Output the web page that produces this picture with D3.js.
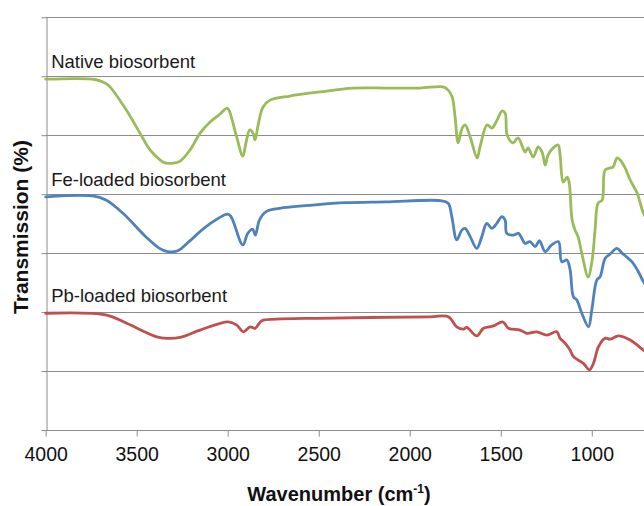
<!DOCTYPE html>
<html>
<head>
<meta charset="utf-8">
<script src="https://cdn.jsdelivr.net/npm/d3@7"></script>
<style>
body{
	margin:0;
	background:#fff;
}
svg text{
	font-family:"Liberation Sans", Arial, sans-serif;
}
.grid line{
	stroke:#8c8c8c;
	stroke-width:1;
}
.spectrum{
	fill:none;
	stroke-width:2.8;
	stroke-linejoin:round;
	stroke-linecap:round;
}
</style>
</head>
<body>
<svg></svg>
<script>
// wavenumbers (cm-1) and transmission, one pair of arrays per sample
var nativeWn = [4000,3729,3674,3647,3564,3482,3427,3372,3345,3290,3262,3207,3152,3097,3042,3004,2993,2954,2917,2900,2879,2861,2850,2833,2806,2767,2658,2493,2311,2125,1943,1817,1789,1767,1751,1734,1712,1696,1668,1630,1614,1575,1548,1520,1493,1476,1465,1432,1405,1366,1350,1322,1295,1273,1256,1240,1212,1185,1174,1157,1135,1124,1108,1092,1075,1053,1020,998,982,965,943,927,899,883,861,844,817,789,751,718,680];
var nativeT = [119.0,118.9,117.7,116.4,109.2,100.7,95.0,91.6,90.6,90.6,91.2,95.0,100.7,104.5,107.2,109.2,108.5,100.1,92.9,97.4,101.8,100.7,98.4,103.5,109.6,111.9,113.3,114.7,116.0,116.0,116.0,116.4,115.3,113.0,106.2,97.4,102.4,103.5,99.4,92.3,96.0,103.5,102.4,105.2,108.2,107.5,100.1,97.4,99.1,94.3,95.7,92.6,96.0,94.3,89.9,93.3,95.7,96.7,93.3,84.1,85.8,83.8,71.2,67.8,65.5,59.4,51.9,57.7,67.8,77.0,78.0,88.2,88.9,89.2,92.3,91.6,88.9,84.8,80.4,73.9,69.5];

var feWn = [4000,3742,3669,3577,3449,3377,3330,3275,3213,3119,3000,2982,2917,2890,2863,2848,2826,2789,2716,2533,2350,2130,1833,1789,1769,1742,1714,1696,1668,1632,1604,1577,1549,1522,1494,1476,1467,1431,1403,1366,1339,1311,1288,1256,1220,1183,1165,1137,1119,1101,1082,1055,1018,1000,972,954,927,899,862,835,807,780,744,716,680];
var feT = [79.1,79.4,78.0,73.6,65.5,61.7,60.5,60.8,63.9,69.0,73.2,72.4,62.8,66.7,68.1,66.1,71.2,74.1,75.2,76.3,77.1,77.4,77.8,76.9,72.4,64.5,67.8,68.4,65.6,61.6,65.6,70.1,68.4,70.1,72.4,71.2,66.7,66.1,66.7,63.3,63.9,62.2,64.2,60.5,62.8,63.9,57.1,57.7,54.3,45.2,44.1,39.6,35.0,40.7,50.9,52.0,58.2,59.7,61.6,60.1,58.6,57.1,53.7,50.3,47.5];

var pbWn = [4000,3665,3555,3390,3335,3262,3152,2997,2950,2914,2877,2850,2813,2731,2511,1888,1788,1742,1705,1687,1632,1595,1540,1489,1458,1394,1357,1302,1247,1192,1174,1146,1119,1101,1046,1013,991,963,927,899,854,789,716,680];
var pbT = [39.6,39.0,36.2,31.6,31.1,31.4,33.9,36.7,35.6,33.3,35.0,34.5,37.1,37.6,37.9,38.4,38.4,35.0,34.2,34.8,31.9,34.5,35.3,36.7,34.5,33.9,32.8,33.3,32.2,33.3,31.1,29.4,27.1,24.9,22.6,20.4,22.6,28.3,31.1,30.8,31.9,30.5,27.1,25.8];

var sampleNames = ["Native biosorbent", "Fe-loaded biosorbent", "Pb-loaded biosorbent"];
var sampleColors = ["#9bbb59", "#4f81bd", "#c0504d"];

var xTicks = [4000, 3500, 3000, 2500, 2000, 1500, 1000];
var yTicks = [0, 20, 40, 60, 80, 100, 120, 140];

var width = 644,
    height = 506;

var svg = d3.select("svg")
	.attr("width", width)
	.attr("height", height);

var x = d3.scaleLinear().domain([4000, 400]).range([45.7, 701]);
var y = d3.scaleLinear().domain([0, 140]).range([430, 17.3]);

// horizontal grid
svg.append("g")
	.attr("class", "grid")
	.selectAll("line")
	.data(yTicks.slice(1))
	.enter().append("line")
	.attr("x1", x(4000))
	.attr("x2", width)
	.attr("y1", function(d){ return Math.round(y(d)) + 0.5; })
	.attr("y2", function(d){ return Math.round(y(d)) + 0.5; });

// axes
var xAxis = svg.append("g")
	.attr("transform", "translate(0," + (Math.round(y(0)) + 0.5) + ")")
	.call(d3.axisBottom(x).tickValues(xTicks).tickFormat(d3.format("d"))
		.tickSize(6).tickSizeOuter(0).tickPadding(11));

var yAxis = svg.append("g")
	.attr("transform", "translate(" + (Math.round(x(4000)) + 0.5) + ",0)")
	.call(d3.axisLeft(y).tickValues(yTicks).tickSize(5).tickSizeOuter(0).tickFormat(""));

svg.selectAll(".domain").attr("stroke", "#8c8c8c");
svg.selectAll(".tick line").attr("stroke", "#8c8c8c");
xAxis.select(".domain").attr("d", "M" + x(4000) + ",0H" + width);
xAxis.selectAll(".tick text")
	.attr("fill", "#111")
	.style("font-size", "19.5px");

// spectra
var series = [
	{wn: nativeWn, t: nativeT},
	{wn: feWn, t: feT},
	{wn: pbWn, t: pbT}
];

var line = d3.line()
	.x(function(d){ return x(d[0]); })
	.y(function(d){ return y(d[1]); })
	.curve(d3.curveCatmullRom.alpha(0.5));

series.forEach(function(s, i){
	var pts = d3.zip(s.wn, s.t);
	svg.append("path")
		.attr("class", "spectrum")
		.attr("stroke", sampleColors[i])
		.attr("d", line(pts));

	svg.append("text")
		.attr("x", x(3970))
		.attr("y", y(s.t[0]) - 11)
		.attr("fill", "#1a1a1a")
		.style("font-size", "18.5px")
		.text(sampleNames[i]);
});

// axis titles
var xTitle = svg.append("text")
	.attr("x", 339)
	.attr("y", 501)
	.attr("text-anchor", "middle")
	.attr("fill", "#111")
	.style("font-size", "20px")
	.style("font-weight", "bold");
xTitle.append("tspan").text("Wavenumber (cm");
xTitle.append("tspan").attr("dy", -8).style("font-size", "12px").text("-1");
xTitle.append("tspan").attr("dy", 8).text(")");

svg.append("text")
	.attr("transform", "translate(28,227) rotate(-90)")
	.attr("text-anchor", "middle")
	.attr("fill", "#111")
	.style("font-size", "21px")
	.style("font-weight", "bold")
	.text("Transmission (%)");
</script>
</body>
</html>
